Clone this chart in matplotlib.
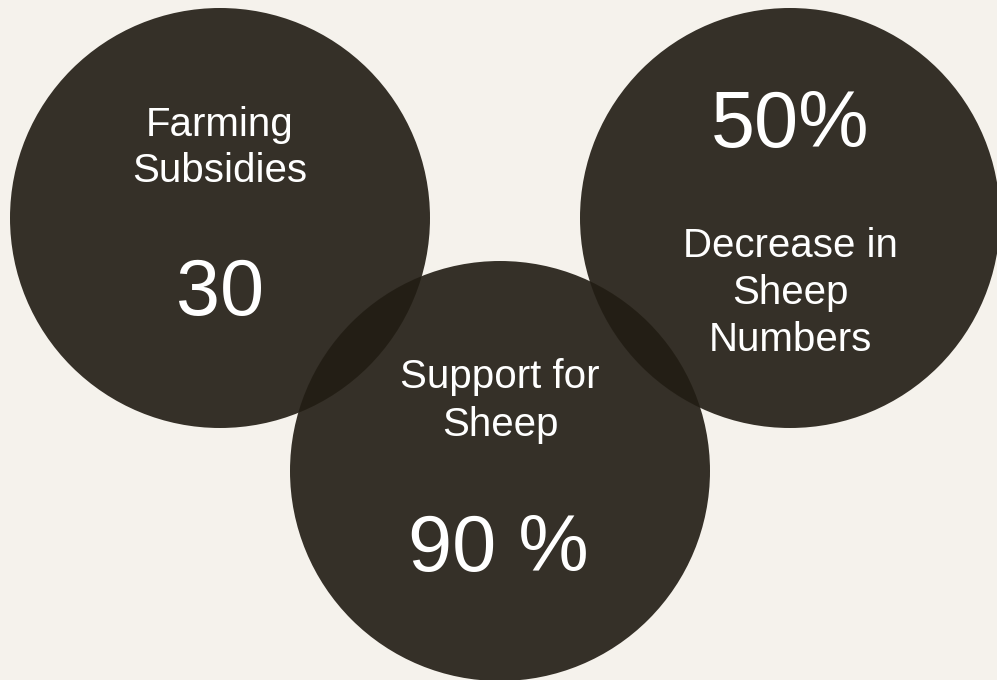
import matplotlib
matplotlib.use('Agg')
import matplotlib.pyplot as plt
from matplotlib.patches import Circle

# three bubbles: centre (px), label, figure
centers = [(220, 218), (500, 471), (790, 218)]
labels = ['Farming\nSubsidies', 'Support for\nSheep', 'Decrease in\nSheep\nNumbers']
figures = ['30', '90 %', '50%']
radius = 210

W, H = 997, 680
fig = plt.figure(figsize=(W / 100, H / 100), dpi=100)
fig.patch.set_facecolor('#f5f2ec')
ax = fig.add_axes([0, 0, 1, 1])
ax.set_xlim(0, W)
ax.set_ylim(H, 0)
ax.set_aspect('equal')
ax.axis('off')

for (cx, cy) in centers:
    ax.add_patch(Circle((cx, cy), radius, facecolor='#221d14', alpha=0.91,
                        edgecolor='none'))

font = 'Liberation Sans'
txt = dict(color='white', ha='center', va='center', family=font)
lab = dict(fontsize=29, linespacing=1.3, **txt)

# left bubble: label above, figure below
ax.text(220, 148, labels[0], **lab)
ax.text(220, 295, figures[0], fontsize=57, **txt)

# bottom bubble
ax.text(500, 401, labels[1], **lab)
ax.text(498, 550, figures[1], fontsize=57, **txt)

# right bubble: figure on top
ax.text(790, 127, figures[2], fontsize=57, **txt)
ax.text(790, 293, labels[2], **lab)

fig.savefig('out.png', dpi=100, facecolor=fig.get_facecolor())
